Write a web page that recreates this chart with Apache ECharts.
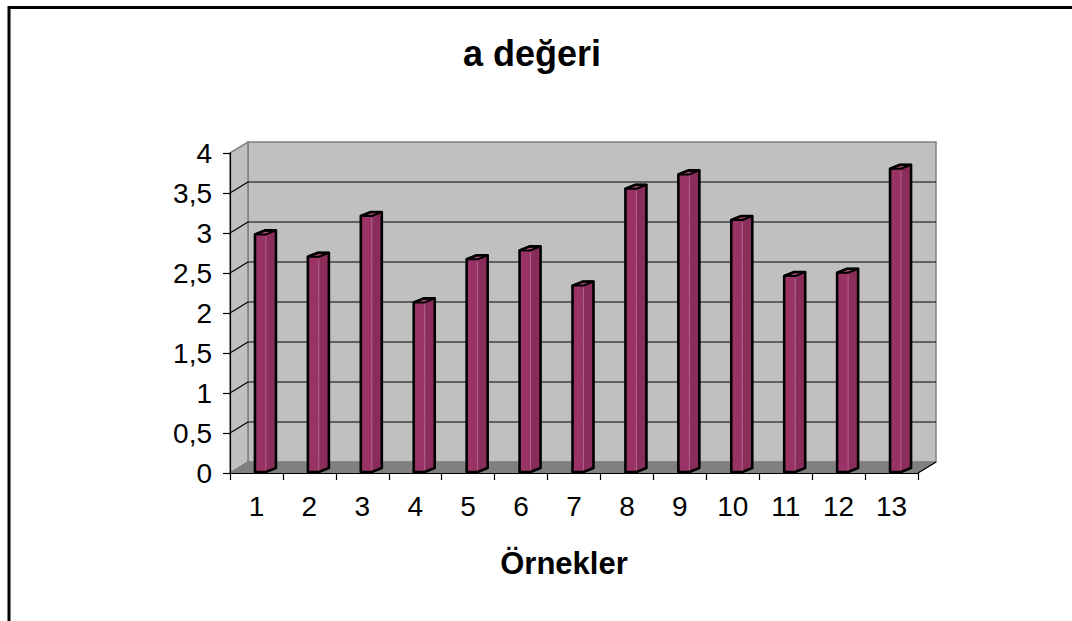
<!DOCTYPE html>
<html>
<head>
<meta charset="utf-8">
<script src="https://cdn.jsdelivr.net/npm/echarts@6/dist/echarts.min.js"></script>
<style>
  html, body { margin: 0; padding: 0; background: #ffffff; }
  #chart { width: 1072px; height: 621px; }
</style>
</head>
<body>
<div id="chart"></div>
<script>
// Sample numbers on the category axis
const categories = ['1', '2', '3', '4', '5', '6', '7', '8', '9', '10', '11', '12', '13'];
// "a" value measured for each sample
const aValues = [2.97, 2.69, 3.2, 2.12, 2.66, 2.77, 2.33, 3.54, 3.72, 3.15, 2.45, 2.49, 3.79];
// Value-axis ticks (also used for the gridlines on the back wall)
const yTickValues = [0, 0.5, 1, 1.5, 2, 2.5, 3, 3.5, 4];

const titleText = 'a değeri';
const xAxisTitle = 'Örnekler';

const FONT = '"Liberation Sans", Arial, Helvetica, sans-serif';
const Y_MIN = yTickValues[0];
const Y_MAX = yTickValues[yTickValues.length - 1];
const Y_STEP = yTickValues[1] - yTickValues[0];

// Oblique depth of the 3D box (back wall offset)
const DX = 18, DY = -11;
// Column geometry
const FRONT_W = 11, SIDE_W = 10, SIDE_H = 4;

const chart = echarts.init(document.getElementById('chart'), null, { renderer: 'svg' });

// Back wall, side wall, floor and wall gridlines
function renderWalls(params, api) {
  const cs = params.coordSys;
  const x0 = cs.x, x1 = cs.x + cs.width;
  const yTop = api.coord([0, Y_MAX])[1];
  const yBot = api.coord([0, Y_MIN])[1];
  const kids = [];
  kids.push({
    type: 'polygon',
    shape: { points: [[x0 + DX, yTop + DY], [x1 + DX, yTop + DY], [x1 + DX, yBot + DY], [x0 + DX, yBot + DY]] },
    style: { fill: '#c0c0c0', stroke: '#808080', lineWidth: 1.5 }
  });
  kids.push({
    type: 'polygon',
    shape: { points: [[x0, yTop], [x0 + DX, yTop + DY], [x0 + DX, yBot + DY], [x0, yBot]] },
    style: { fill: '#c0c0c0', stroke: '#808080', lineWidth: 1.5 }
  });
  kids.push({
    type: 'polygon',
    shape: { points: [[x0, yBot], [x0 + DX, yBot + DY], [x1 + DX, yBot + DY], [x1, yBot]] },
    style: { fill: '#808080', stroke: '#808080', lineWidth: 1 }
  });
  yTickValues.forEach(function (v) {
    if (v === Y_MIN || v === Y_MAX) return;
    const y = api.coord([0, v])[1];
    kids.push({
      type: 'line',
      shape: { x1: x0 + DX, y1: y + DY, x2: x1 + DX, y2: y + DY },
      style: { stroke: '#000000', lineWidth: 1.2 }
    });
    kids.push({
      type: 'line',
      shape: { x1: x0, y1: y, x2: x0 + DX, y2: y + DY },
      style: { stroke: '#000000', lineWidth: 1.2 }
    });
  });
  kids.push({
    type: 'line',
    shape: { x1: x1, y1: yBot, x2: x1 + DX, y2: yBot + DY },
    style: { stroke: '#000000', lineWidth: 1.2 }
  });
  return { type: 'group', children: kids };
}

// One 3D column: front face, right side face, top face and outline
function renderColumn(params, api) {
  const idx = api.value(0);
  const v = api.value(1);
  const top = api.coord([idx, v]);
  const base = api.coord([idx, 0]);
  const xl = top[0] - 1.5;
  const xr = xl + FRONT_W;
  const yt = top[1] - 1;
  const yb = base[1] - 1;
  const kids = [
    {
      type: 'polygon',
      shape: { points: [[xl, yt], [xr, yt], [xr, yb], [xl, yb]] },
      style: { fill: '#993366' }
    },
    {
      type: 'polygon',
      shape: { points: [[xr, yt], [xr + SIDE_W, yt - SIDE_H], [xr + SIDE_W, yb - SIDE_H], [xr, yb]] },
      style: { fill: '#8a2d5b' }
    },
    {
      type: 'polygon',
      shape: { points: [[xl, yt], [xr, yt], [xr + SIDE_W, yt - SIDE_H], [xl + SIDE_W, yt - SIDE_H]] },
      style: { fill: '#a84a7a', stroke: '#000000', lineWidth: 2, lineJoin: 'round' }
    },
    {
      type: 'line',
      shape: { x1: xr, y1: yt + 2, x2: xr, y2: yb - 1 },
      style: { stroke: '#b86a92', lineWidth: 0.8 }
    },
    {
      type: 'polygon',
      shape: { points: [[xl, yb], [xl, yt], [xl + SIDE_W, yt - SIDE_H], [xr + SIDE_W, yt - SIDE_H], [xr + SIDE_W, yb - SIDE_H], [xr, yb]] },
      style: { fill: null, stroke: '#000000', lineWidth: 2.6, lineJoin: 'round' }
    }
  ];
  return { type: 'group', children: kids };
}

const option = {
  backgroundColor: '#ffffff',
  animation: false,
  grid: { left: 230, right: 154, top: 153, bottom: 148, containLabel: false },
  xAxis: {
    type: 'category',
    data: categories,
    boundaryGap: true,
    z: 5,
    axisLine: { show: true, lineStyle: { color: '#000000', width: 1.2 } },
    axisTick: { show: true, length: 7, lineStyle: { color: '#000000', width: 1.2 } },
    axisLabel: { color: '#000000', fontFamily: FONT, fontSize: 28, margin: 19 },
    splitLine: { show: false }
  },
  yAxis: {
    type: 'value',
    min: Y_MIN,
    max: Y_MAX,
    interval: Y_STEP,
    z: 5,
    axisLine: { show: true, lineStyle: { color: '#000000', width: 1.2 } },
    axisTick: { show: true, length: 7, lineStyle: { color: '#000000', width: 1.2 } },
    axisLabel: {
      color: '#000000', fontFamily: FONT, fontSize: 28, margin: 18,
      formatter: function (v) { return String(v).replace('.', ','); }
    },
    splitLine: { show: false }
  },
  graphic: [
    {
      type: 'polyline',
      shape: { points: [[9, 640], [9, 7.5], [1090, 7.5]] },
      style: { fill: null, stroke: '#000000', lineWidth: 3 },
      z: 10
    },
    {
      type: 'text',
      x: 532, y: 53,
      style: {
        text: titleText, fill: '#000000', fontFamily: FONT, fontWeight: 'bold', fontSize: 36,
        align: 'center', verticalAlign: 'middle'
      },
      z: 10
    },
    {
      type: 'text',
      x: 564, y: 563,
      style: {
        text: xAxisTitle, fill: '#000000', fontFamily: FONT, fontWeight: 'bold', fontSize: 31,
        align: 'center', verticalAlign: 'middle'
      },
      z: 10
    }
  ],
  series: [
    {
      type: 'custom',
      silent: true,
      clip: false,
      z: 1,
      renderItem: renderWalls,
      data: [[0, 0]]
    },
    {
      type: 'custom',
      silent: true,
      clip: false,
      z: 2,
      renderItem: renderColumn,
      encode: { x: 0, y: 1 },
      data: aValues.map(function (v, i) { return [i, v]; })
    }
  ]
};

chart.setOption(option);
</script>
</body>
</html>
